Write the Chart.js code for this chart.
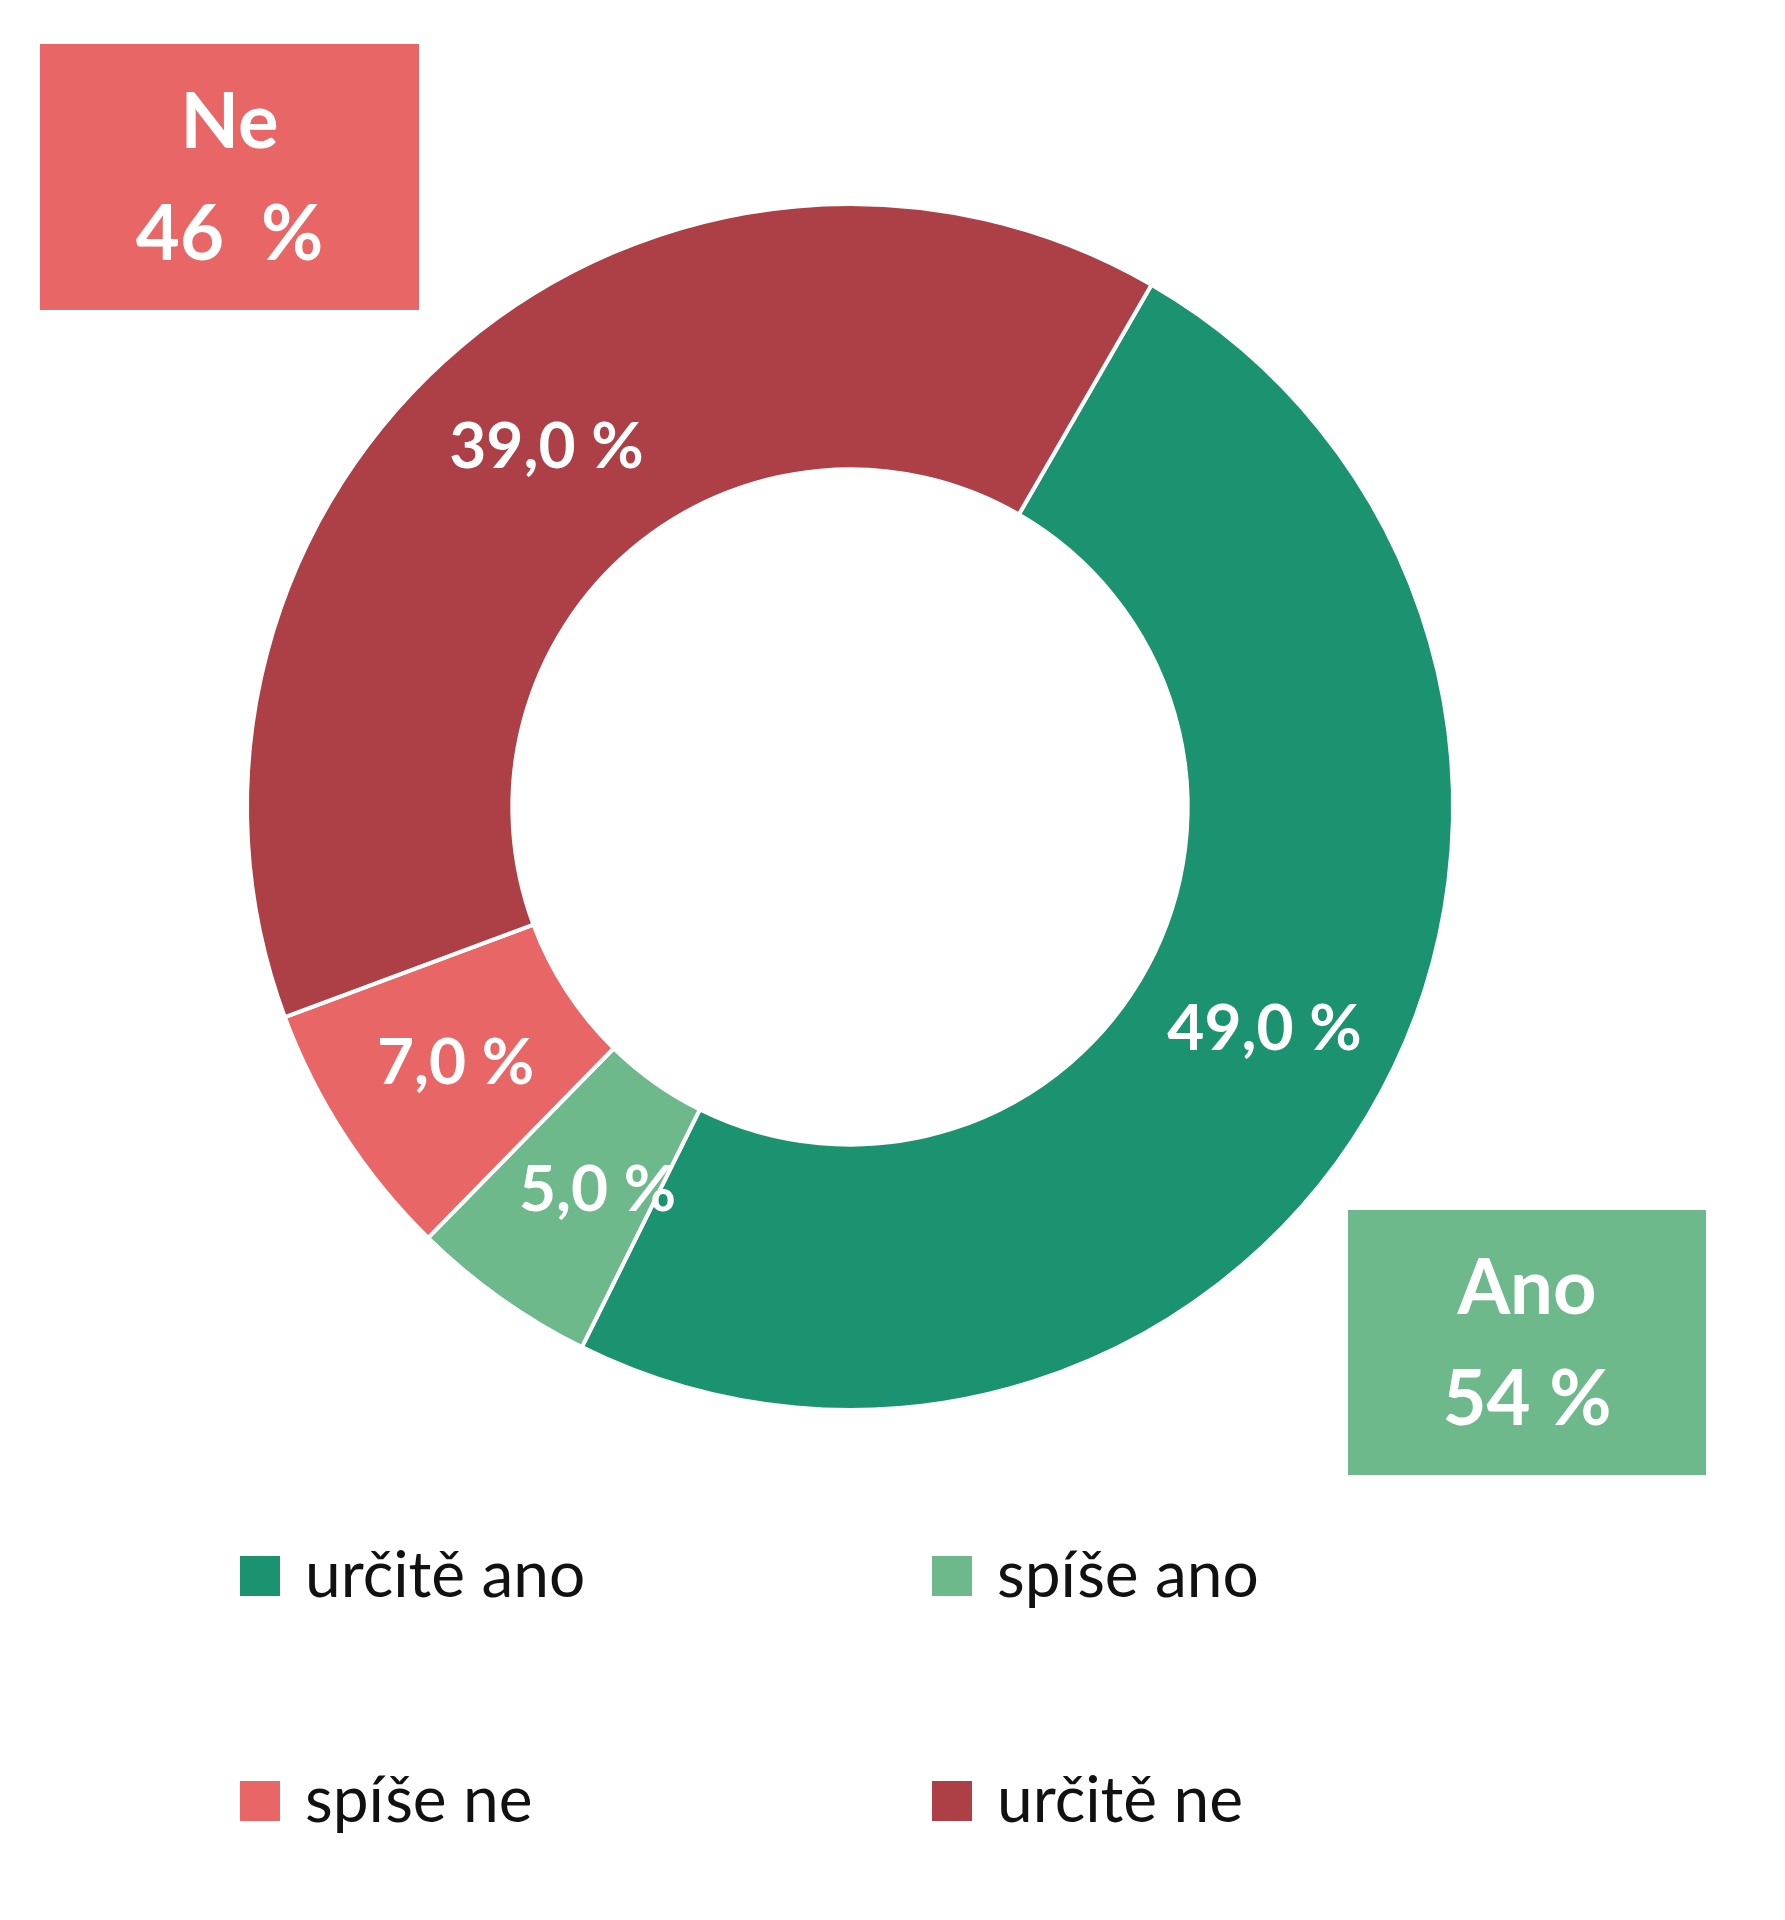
<!DOCTYPE html>
<html><head><meta charset="utf-8">
<script src="https://cdn.jsdelivr.net/npm/chart.js@4/dist/chart.umd.min.js"></script>
<style>html,body{margin:0;background:#fff}#w{width:1785px;height:1920px}</style>
</head><body><div id="w"><canvas id="c"></canvas></div>
<script>
const categories = ["určitě ano", "spíše ano", "spíše ne", "určitě ne"];
const values = [49, 5, 7, 39];
const valueLabels = ["49,0 %", "5,0 %", "7,0 %", "39,0 %"];
const colors = ["#1B9270", "#6DB98B", "#E86766", "#AD4046"];
const groupLabels = [["Ne", "46  %"], ["Ano", "54 %"]];
const FONT = "Lato, 'Open Sans', sans-serif";

const plugin = {
  id: 'extras',
  afterDraw(chart) {
    const ctx = chart.ctx;
    const meta = chart.getDatasetMeta(0);
    ctx.save();
    ctx.textAlign = 'center'; ctx.textBaseline = 'middle';
    ctx.fillStyle = '#fff';
    ctx.font = 'bold 64px ' + FONT;
    meta.data.forEach((arc, i) => {
      const p = arc.tooltipPosition();
      const a = (arc.startAngle + arc.endAngle) / 2;
      const r = (arc.innerRadius + arc.outerRadius) / 2;
      let x = arc.x + Math.cos(a) * r, y = arc.y + Math.sin(a) * r;
      if (i === 1) { x += 20; }
      ctx.fillText(valueLabels[i], x, y);
    });
    // group boxes
    const boxes = [
      {x: 40, y: 44, w: 379, h: 266, c: colors[2], t: groupLabels[0]},
      {x: 1348, y: 1210, w: 358, h: 265, c: colors[1], t: groupLabels[1]}
    ];
    boxes.forEach(b => {
      ctx.fillStyle = b.c; ctx.fillRect(b.x, b.y, b.w, b.h);
      ctx.fillStyle = '#fff'; ctx.font = 'bold 76px ' + FONT;
      ctx.fillText(b.t[0], b.x + b.w / 2, b.y + b.h * 0.3);
      ctx.fillText(b.t[1], b.x + b.w / 2, b.y + b.h * 0.72);
    });
    // legend
    const pos = [[243, 1578], [935, 1578], [243, 1803], [935, 1803]];
    ctx.textAlign = 'left'; ctx.font = '64px ' + FONT;
    categories.forEach((c, i) => {
      const [x, y] = pos[i];
      ctx.fillStyle = colors[i]; ctx.fillRect(x - 3, y - 22, 40, 40);
      ctx.fillStyle = '#111'; ctx.fillText(c, x + 62, y - 2);
    });
    ctx.restore();
  }
};

new Chart(document.getElementById('c'), {
  type: 'doughnut',
  data: { labels: categories, datasets: [{ data: values, backgroundColor: colors, borderColor: '#fff', borderWidth: 4 }] },
  options: {
    responsive: true, maintainAspectRatio: false, animation: false,
    rotation: 30, cutout: '56%',
    layout: { padding: { left: 245, right: 330, top: 202, bottom: 508 } },
    plugins: { legend: { display: false }, tooltip: { enabled: false } }
  },
  plugins: [plugin]
});
</script></body></html>
